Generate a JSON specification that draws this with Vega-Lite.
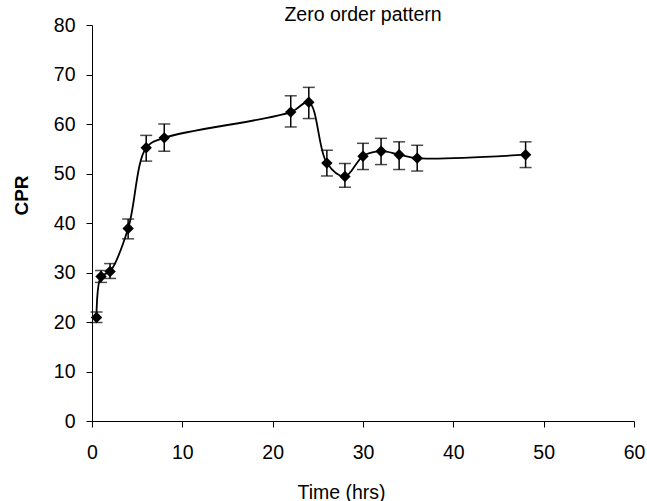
{
  "$schema": "https://vega.github.io/schema/vega-lite/v6.json",
  "autosize": "none",
  "width": 542,
  "height": 396,
  "padding": {"left": 92, "top": 25, "right": 13, "bottom": 80},
  "background": "white",
  "config": {
    "view": {"stroke": null},
    "font": "Liberation Sans"
  },
  "title": {
    "text": "Zero order pattern",
    "fontSize": 19.5,
    "fontWeight": "normal",
    "font": "Liberation Sans",
    "color": "black",
    "baseline": "alphabetic",
    "offset": -25
  },
  "data": {
    "values": [
      {"t": 0.5, "cpr": 20.9, "lo": 19.9, "hi": 22.0},
      {"t": 1, "cpr": 29.2, "lo": 28.0, "hi": 30.4},
      {"t": 2, "cpr": 30.2, "lo": 28.8, "hi": 31.8},
      {"t": 4, "cpr": 38.9, "lo": 36.8, "hi": 40.8},
      {"t": 6, "cpr": 55.2, "lo": 52.5, "hi": 57.7},
      {"t": 8, "cpr": 57.2, "lo": 54.5, "hi": 60.0},
      {"t": 22, "cpr": 62.4, "lo": 59.4, "hi": 65.7},
      {"t": 24, "cpr": 64.4, "lo": 61.1, "hi": 67.4},
      {"t": 26, "cpr": 52.1, "lo": 49.5, "hi": 54.7},
      {"t": 28, "cpr": 49.4, "lo": 47.2, "hi": 52.0},
      {"t": 30, "cpr": 53.5, "lo": 50.8, "hi": 56.1},
      {"t": 32, "cpr": 54.5, "lo": 51.8, "hi": 57.1},
      {"t": 34, "cpr": 53.8, "lo": 50.8, "hi": 56.4},
      {"t": 36, "cpr": 53.1, "lo": 50.5, "hi": 55.7},
      {"t": 48, "cpr": 53.8, "lo": 51.2, "hi": 56.4}
    ]
  },
  "encoding": {
    "x": {
      "field": "t",
      "type": "quantitative",
      "scale": {"domain": [0, 60], "nice": false},
      "axis": {
        "title": "Time (hrs)",
        "values": [0, 10, 20, 30, 40, 50, 60],
        "grid": false,
        "domainColor": "black",
        "tickColor": "black",
        "tickSize": 6,
        "labelFontSize": 19.5,
        "labelColor": "black",
        "labelFont": "Liberation Sans",
        "labelPadding": 16,
        "labelFlush": false,
        "titleFontSize": 19.5,
        "titleFontWeight": "normal",
        "titleColor": "black",
        "titleFont": "Liberation Sans",
        "titleX": 249,
        "titleY": 71,
        "titleBaseline": "middle",
        "titleAlign": "center"
      }
    }
  },
  "layer": [
    {
      "mark": {"type": "rule", "color": "black", "strokeWidth": 1.5},
      "encoding": {
        "y": {"field": "lo", "type": "quantitative"},
        "y2": {"field": "hi"}
      }
    },
    {
      "mark": {"type": "tick", "color": "black", "thickness": 1.5, "size": 12, "orient": "horizontal"},
      "encoding": {"y": {"field": "lo", "type": "quantitative"}}
    },
    {
      "mark": {"type": "tick", "color": "black", "thickness": 1.5, "size": 12, "orient": "horizontal"},
      "encoding": {"y": {"field": "hi", "type": "quantitative"}}
    },
    {
      "mark": {"type": "line", "color": "black", "strokeWidth": 1.8, "interpolate": "catmull-rom"},
      "encoding": {
        "y": {
          "field": "cpr",
          "type": "quantitative",
          "scale": {"domain": [0, 80], "nice": false},
          "axis": {
            "title": "CPR",
            "values": [0, 10, 20, 30, 40, 50, 60, 70, 80],
            "grid": false,
            "domainColor": "black",
            "tickColor": "black",
            "tickSize": 6,
            "labelFontSize": 19.5,
            "labelColor": "black",
            "labelFont": "Liberation Sans",
            "labelPadding": 11,
            "labelFlush": false,
            "titleFontSize": 19,
            "titleFontWeight": "bold",
            "titleColor": "black",
            "titleFont": "Liberation Sans",
            "titleX": -71,
            "titleY": 170,
            "titleAngle": 270,
            "titleBaseline": "middle",
            "titleAlign": "center"
          }
        }
      }
    },
    {
      "mark": {"type": "point", "shape": "diamond", "filled": true, "color": "black", "size": 130, "opacity": 1},
      "encoding": {"y": {"field": "cpr", "type": "quantitative"}}
    }
  ],
  "resolve": {"scale": {"y": "shared"}}
}
